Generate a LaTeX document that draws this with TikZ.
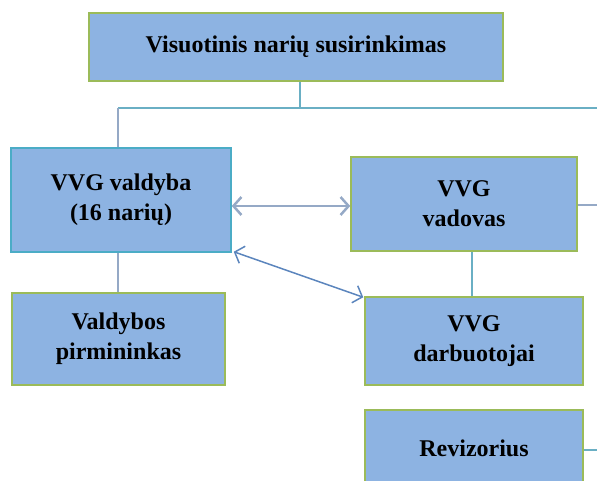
\documentclass[tikz,border=0pt]{standalone}
\usepackage{fontspec}
\setmainfont{Liberation Serif}
\usetikzlibrary{arrows.meta}
\definecolor{boxfill}{HTML}{8DB3E2}
\definecolor{boxgreen}{HTML}{9BBB59}
\definecolor{boxteal}{HTML}{4BACC6}
\definecolor{wireteal}{HTML}{6AAFC4}
\definecolor{wiregrey}{HTML}{95A9C6}
\definecolor{arrowblue}{HTML}{5B85BD}
\begin{document}
\begin{tikzpicture}[x=1pt,y=-1pt,semithick,box/.style={rectangle,draw=boxgreen,line width=1.5pt,fill=boxfill,align=center,font=\fontsize{24}{30}\selectfont\bfseries,inner sep=0pt},wire/.style={draw=wireteal,line width=1.5pt},greywire/.style={draw=wiregrey,line width=1.5pt},link/.style={draw=arrowblue,line width=1.5pt,{Straight Barb[length=8pt,width=18pt]}-{Straight Barb[length=8pt,width=18pt]}}]
  \clip (0,0) rectangle (597,480);
  \node[box,minimum width=414pt,minimum height=68pt] (n1) at (296,47) {Visuotinis narių susirinkimas};
  \node[box,draw=boxteal,minimum width=220pt,minimum height=104pt] (n2) at (121,200) {VVG valdyba\\(16 narių)};
  \node[box,minimum width=226pt,minimum height=94pt] (n3) at (464,204) {VVG\\vadovas};
  \node[box,minimum width=213pt,minimum height=92pt] (n4) at (118.5,339) {Valdybos\\pirmininkas};
  \node[box,minimum width=218pt,minimum height=88pt] (n5) at (474,341) {VVG\\darbuotojai};
  \node[box,minimum width=218pt,minimum height=76pt] (n6) at (474,448) {Revizorius};
  \coordinate (bus) at (300,108);
  \coordinate (busleft) at (118,108);
  \coordinate (busright) at (600,108);
  \coordinate (vadright) at (600,205);
  \coordinate (revright) at (600,450);
  \path[wire] (n1.south -| bus) -- (bus);
  \path[wire] (busleft) -- (busright);
  \path[greywire] (busleft) -- (n2.north -| busleft);
  \path[greywire] (n2.south -| busleft) -- (n4.north -| busleft);
  \path[greywire] (n3.east |- vadright) -- (vadright);
  \path[wire] ([xshift=8pt]n3.south) -- ([xshift=-2pt]n5.north);
  \path[wire] (n6.east |- revright) -- (revright);
  \path[link,draw=wiregrey,line width=2.5pt] ([yshift=-6pt]n2.east) -- ([yshift=-6pt]n2.east -| n3.west);
  \path[link] ([shift={(2pt,1pt)}]n2.south east) -- ([shift={(-1pt,-1pt)}]n5.north west);
\end{tikzpicture}
\end{document}
